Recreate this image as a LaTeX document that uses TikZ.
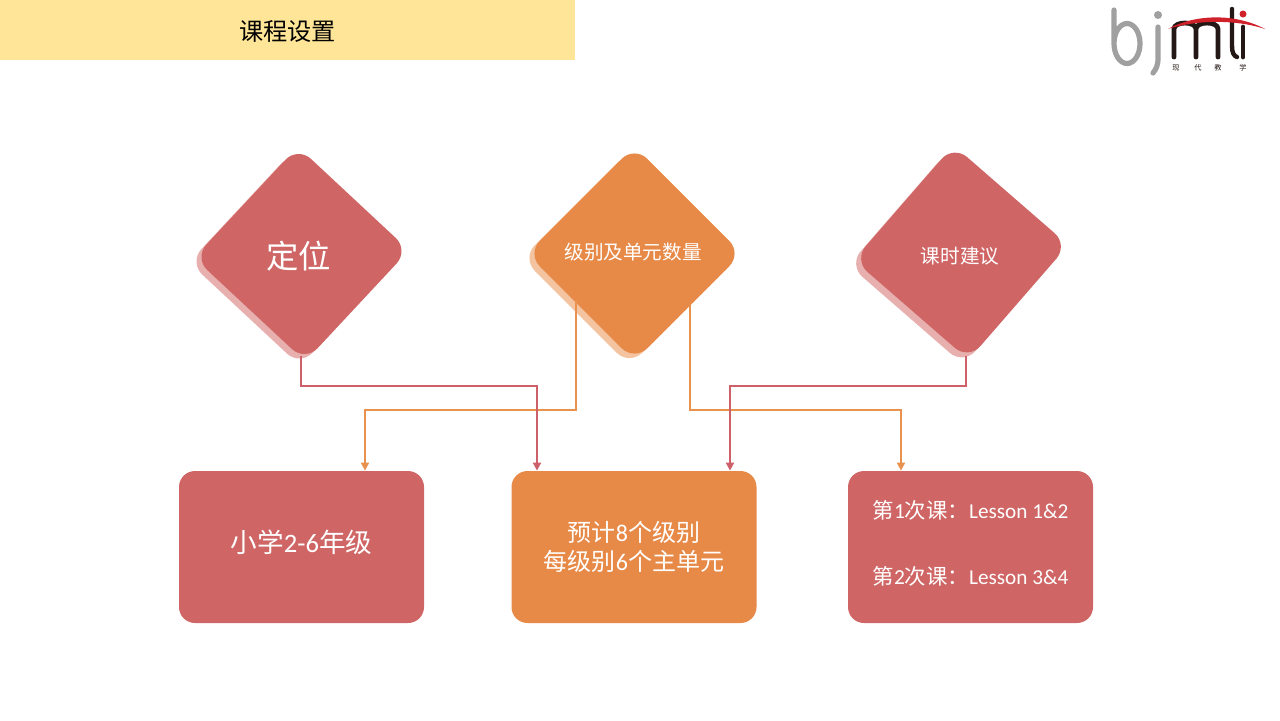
\documentclass[tikz,border=0pt]{standalone}
\usepackage{fontspec}
\setmainfont{Carlito}
\newfontfamily\cjk{Noto Sans CJK SC}
\usetikzlibrary{positioning, arrows.meta, shapes.geometric}
\definecolor{lessonred}{HTML}{CF6665}
\definecolor{lessonorange}{HTML}{E78947}
\definecolor{shadowred}{HTML}{E8AFAF}
\definecolor{shadoworange}{HTML}{F4C3A0}
\definecolor{lineorange}{HTML}{E9924F}
\definecolor{linered}{HTML}{CD6068}
\definecolor{titleyellow}{HTML}{FFE597}
\definecolor{logogray}{HTML}{A0A0A0}
\definecolor{logodark}{HTML}{231815}
\definecolor{logored}{HTML}{D0202A}

\begin{document}
\begin{tikzpicture}[x=0.5pt, y=-0.5pt,
        rhomb/.style={diamond, rounded corners=9pt, minimum width=107.5pt, minimum height=107.5pt, inner sep=0pt, outer sep=0pt},
        rhombtext/.style={text=white, inner sep=0pt, font=\fontsize{9.8}{12}\selectfont},
        card/.style={rounded corners=8pt, minimum width=122.5pt, minimum height=76pt, inner sep=0pt, text=white, align=center, font=\fontsize{12}{14.5}\selectfont},
        redline/.style={draw=linered, line width=1pt, -{Triangle[length=4pt, width=4pt]}},
        orangeline/.style={draw=lineorange, line width=1pt, -{Triangle[length=4pt, width=4pt]}}
    ]
      \useasboundingbox (0,0) rectangle (1280,720);
      % Title band
      \node[fill=titleyellow, minimum width=287.5pt, minimum height=30pt, inner sep=0pt, text=black, text height=11.6pt, text depth=1.5pt, font=\fontsize{12.1}{14}\selectfont] (title) at (287.5,30) {\cjk 课程设置};
      % Logo
      \draw[logogray, line width=2.6pt, line cap=round] (1114,10) -- (1114,44) (1127,43.5) circle[x radius=13, y radius=20];
      \draw[logogray, line width=2.6pt, line cap=round] (1158,27) -- (1158,58) .. controls (1158,66) and (1156,69) .. (1153,73);
      \fill[logogray] (1158,15) circle[radius=4];
      \draw[logodark, line width=2.4pt, line cap=round] (1174,57) -- (1174,29) .. controls (1174,21) and (1196,21) .. (1196,29) -- (1196,57) (1196,29) .. controls (1196,21) and (1218,21) .. (1218,29) -- (1218,57);
      \draw[logodark, line width=2.2pt, line cap=round] (1232,9) -- (1232,46) .. controls (1232,53) and (1234,56) .. (1237,57);
      \draw[logodark, line width=2.4pt, line cap=round] (1243,27) -- (1243,57);
      \fill[logored] (1243,14) circle[radius=3.5];
      \fill[logored] (1168,29) .. controls (1195,14) and (1235,13) .. (1265,29) .. controls (1235,19) and (1195,20) .. (1168,29) -- cycle;
      \foreach \logox/\logoch in {1176/现,1198/代,1218/教,1243/学}
        \node[text=logodark, inner sep=0pt, font=\fontsize{3.6}{4}\selectfont] (logo\logoch) at (\logox,68) {\cjk \logoch};
      % Diamond row, each with its pale copy behind
      \node[rhomb, rotate=2, fill=shadowred] (dingweishadow) at (296.5,258.5) {};
      \node[rhomb, rotate=2, fill=lessonred] (dingwei) at (301.5,254) {};
      \node[rhombtext, font=\fontsize{16.2}{18}\selectfont] (dingweitext) at (298.5,256) {\cjk 定位};
      \node[rhomb, fill=shadoworange] (jibieshadow) at (629.5,258) {};
      \node[rhomb, fill=lessonorange] (jibie) at (634.5,253.5) {};
      \node[rhombtext] (jibietext) at (633,252) {\cjk 级别及单元数量};
      \node[rhomb, rotate=4, fill=shadowred] (keshishadow) at (956,257.5) {};
      \node[rhomb, rotate=4, fill=lessonred] (keshi) at (961,252.5) {};
      \node[rhombtext] (keshitext) at (960,256) {\cjk 课时建议};
      % Bottom row
      \node[card, fill=lessonred, text depth=6pt, font=\fontsize{13.3}{16}\selectfont] (grade) at (301.5,547) {\cjk 小学{\rmfamily 2-6}年级};
      \node[card, fill=lessonorange] (level) at (634,547) {\cjk 预计{\rmfamily 8}个级别\\\cjk 每级别{\rmfamily 6}个主单元};
      \node[card, fill=lessonred, text depth=5pt, font=\fontsize{10.7}{33}\selectfont] (lesson) at (970.5,547) {\cjk 第{\rmfamily 1}次课：{\rmfamily\fontsize{10.6}{33}\selectfont Lesson 1\&2}\hspace{1pt}\\\cjk 第{\rmfamily 2}次课：{\rmfamily\fontsize{10.6}{33}\selectfont Lesson 3\&4}\hspace{1pt}};
      % Connector ends
      \coordinate (dingweiout) at (301,356);
      \coordinate (keshiout) at (966,356);
      \coordinate (jibieleft) at (576,300);
      \coordinate (jibieright) at (690,305);
      \coordinate (gradein) at ([xshift=31.75pt]grade.north);
      \coordinate (levelleft) at ([xshift=-48.5pt]level.north);
      \coordinate (levelright) at ([xshift=48pt]level.north);
      \coordinate (lessonin) at ([xshift=-34.75pt]lesson.north);
      % Connectors
      \draw[orangeline] (jibieleft) |- (gradein |- 0,410) -- (gradein);
      \draw[orangeline] (jibieright) |- (lessonin |- 0,410) -- (lessonin);
      \draw[redline] (dingweiout) |- (levelleft |- 0,386) -- (levelleft);
      \draw[redline] (keshiout) |- (levelright |- 0,386) -- (levelright);
    \end{tikzpicture}
\end{document}
